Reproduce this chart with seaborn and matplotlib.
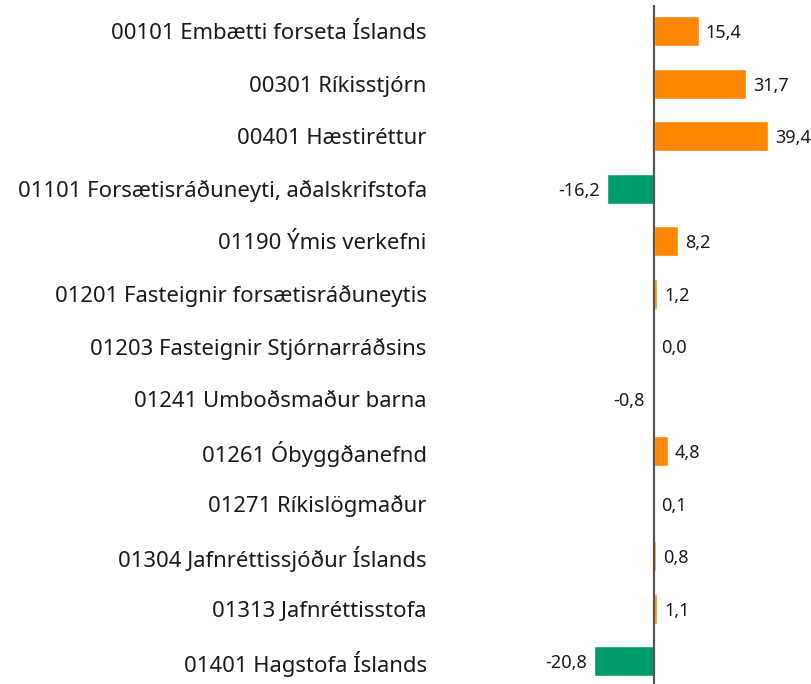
import matplotlib
matplotlib.use("Agg")
import matplotlib.pyplot as plt
import seaborn as sns
import pandas as pd
from matplotlib.transforms import offset_copy

categories = [
    "00101 Embætti forseta Íslands",
    "00301 Ríkisstjórn",
    "00401 Hæstiréttur",
    "01101 Forsætisráðuneyti, aðalskrifstofa",
    "01190 Ýmis verkefni",
    "01201 Fasteignir forsætisráðuneytis",
    "01203 Fasteignir Stjórnarráðsins",
    "01241 Umboðsmaður barna",
    "01261 Óbyggðanefnd",
    "01271 Ríkislögmaður",
    "01304 Jafnréttissjóður Íslands",
    "01313 Jafnréttisstofa",
    "01401 Hagstofa Íslands",
]
values = [15.4, 31.7, 39.4, -16.2, 8.2, 1.2, 0.0, -0.8, 4.8, 0.1, 0.8, 1.1, -20.8]

sns.set_theme(style="white")
plt.rcParams["font.family"] = ["Noto Sans", "DejaVu Sans"]

df = pd.DataFrame({"cat": categories, "val": values})
df["sign"] = ["pos" if v >= 0 else "neg" for v in values]

fig = plt.figure(figsize=(8.12, 6.84), dpi=100)
ax = fig.add_axes([440 / 812, 0.0, 372 / 812, 679 / 684])

sns.barplot(data=df, x="val", y="cat", hue="sign", orient="h",
            palette={"pos": "#FF8800", "neg": "#009B6B"}, dodge=False,
            width=0.57, legend=False, ax=ax, saturation=1)

ax.set_xlim(-(654 - 440) / 2.9, (812 - 654) / 2.9)
ax.set_ylim(12.43, -0.5)
ax.axvline(0, color="#555555", lw=1.6, zorder=5)
for s in ax.spines.values():
    s.set_visible(False)
ax.set_xticks([])
ax.set_xlabel("")
ax.set_ylabel("")
ax.tick_params(axis="y", length=0, pad=9.5, labelsize=15.9, labelcolor="#1a1a1a")

for i, v in enumerate(values):
    txt = f"{v:.1f}".replace(".", ",")
    if v >= 0:
        tr = offset_copy(ax.transData, fig=fig, x=7, y=0, units="dots")
        ax.text(v, i, txt, transform=tr, ha="left", va="center_baseline",
                fontsize=13, color="#1a1a1a")
    else:
        tr = offset_copy(ax.transData, fig=fig, x=-7, y=0, units="dots")
        ax.text(v, i, txt, transform=tr, ha="right", va="center_baseline",
                fontsize=13, color="#1a1a1a")

fig.savefig("out.png", dpi=100)
